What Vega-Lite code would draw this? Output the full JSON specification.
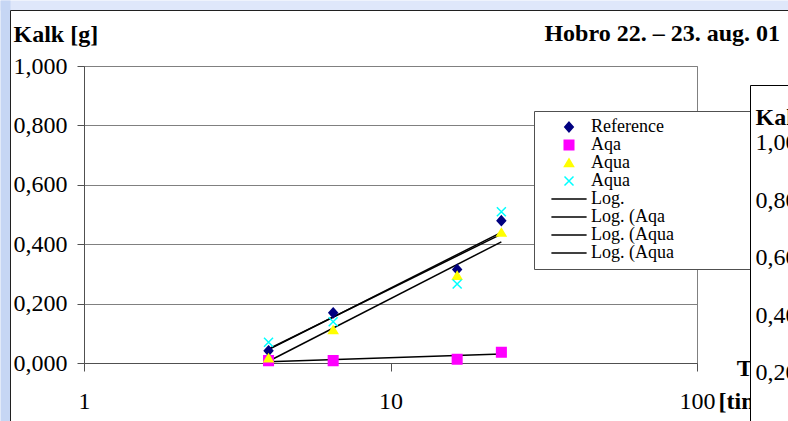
{
  "$schema": "https://vega.github.io/schema/vega-lite/v6.json",
  "width": 613,
  "height": 297,
  "autosize": {"type": "none"},
  "padding": {"left": 84, "top": 66, "right": 91, "bottom": 58},
  "background": "white",
  "title": {
    "text": "Hobro 22. – 23. aug. 01",
    "anchor": "end",
    "frame": "group",
    "dx": 83,
    "dy": 17,
    "offset": -43,
    "baseline": "alphabetic",
    "font": "Liberation Serif",
    "fontSize": 24,
    "fontWeight": "bold",
    "color": "black"
  },
  "datasets": {
    "points": [
      {"t": 4, "kalk": 0.041, "series": "Reference"},
      {"t": 6.5, "kalk": 0.169, "series": "Reference"},
      {"t": 16.5, "kalk": 0.315, "series": "Reference"},
      {"t": 23, "kalk": 0.479, "series": "Reference"},
      {"t": 4, "kalk": 0.008, "series": "Aqa"},
      {"t": 6.5, "kalk": 0.008, "series": "Aqa"},
      {"t": 16.5, "kalk": 0.013, "series": "Aqa"},
      {"t": 23, "kalk": 0.036, "series": "Aqa"},
      {"t": 4, "kalk": 0.016, "series": "Aqua"},
      {"t": 6.5, "kalk": 0.111, "series": "Aqua"},
      {"t": 16.5, "kalk": 0.294, "series": "Aqua"},
      {"t": 23, "kalk": 0.439, "series": "Aqua"},
      {"t": 4, "kalk": 0.07, "series": "Aqua2"},
      {"t": 6.5, "kalk": 0.139, "series": "Aqua2"},
      {"t": 16.5, "kalk": 0.266, "series": "Aqua2"},
      {"t": 23, "kalk": 0.509, "series": "Aqua2"}
    ],
    "trends": [
      {"t": 4, "kalk": 0.045, "trend": "Log."},
      {"t": 23, "kalk": 0.44, "trend": "Log."},
      {"t": 4, "kalk": 0.004, "trend": "Log. (Aqa"},
      {"t": 23, "kalk": 0.03, "trend": "Log. (Aqa"},
      {"t": 4, "kalk": 0.006, "trend": "Log. (Aqua"},
      {"t": 23, "kalk": 0.408, "trend": "Log. (Aqua"},
      {"t": 4, "kalk": 0.047, "trend": "Log. (Aqua2"},
      {"t": 23, "kalk": 0.434, "trend": "Log. (Aqua2"}
    ],
    "empty": []
  },
  "layer": [
    {
      "encoding": {
        "x": {
          "field": "t",
          "type": "quantitative",
          "scale": {"type": "log", "domain": [1, 100], "nice": false},
          "axis": {
            "orient": "bottom",
            "values": [1, 10, 100],
            "format": "d",
            "labelFont": "Liberation Serif",
            "titleFont": "Liberation Serif",
            "labelFlush": false,
            "labelOverlap": false,
            "labelBaseline": "alphabetic",
            "labelPadding": 37,
            "tickSize": 8,
            "tickColor": "#505050",
            "domainColor": "#505050",
            "grid": false,
            "title": ["Tid", "[timer]"],
            "titleX": 670,
            "titleY": 12,
            "titleAlign": "center",
            "titleBaseline": "alphabetic",
            "titleFontWeight": "bold",
            "titleLineHeight": 33
          }
        },
        "y": {
          "field": "kalk",
          "type": "quantitative",
          "scale": {"domain": [0, 1], "nice": false, "zero": false},
          "axis": {
            "orient": "left",
            "values": [0, 0.2, 0.4, 0.6, 0.8, 1],
            "labelExpr": "replace(format(datum.value, '.3f'), '.', ',')",
            "labelFont": "Liberation Serif",
            "titleFont": "Liberation Serif",
            "labelFlush": false,
            "labelOverlap": false,
            "labelPadding": 10,
            "tickSize": 7,
            "tickColor": "#505050",
            "domainColor": "#505050",
            "grid": true,
            "gridColor": "#808080",
            "title": "Kalk [g]",
            "titleAngle": 0,
            "titleX": -71,
            "titleY": -25,
            "titleAlign": "left",
            "titleBaseline": "alphabetic",
            "titleFontWeight": "bold"
          }
        }
      },
      "layer": [
        {
          "data": {"name": "trends"},
          "mark": {"type": "line", "color": "black", "strokeWidth": 1.5},
          "encoding": {"detail": {"field": "trend", "type": "nominal"}}
        },
        {
          "data": {"name": "points"},
          "mark": {"type": "point", "size": 64, "strokeWidth": 1.5, "opacity": 1},
          "encoding": {
            "shape": {
              "field": "series",
              "type": "nominal",
              "scale": {
                "domain": ["Reference", "Aqa", "Aqua", "Aqua2", "Log.", "Log. (Aqa", "Log. (Aqua", "Log. (Aqua2"],
                "range": [
                  "M0,-1.19L1.06,0L0,1.19L-1.06,0Z",
                  "M-1.19,-1.19H1.19V1.19H-1.19Z",
                  "M0,-1.0L1.125,0.875H-1.125Z",
                  "M-1.125,-1.125L1.125,1.125M-1.125,1.125L1.125,-1.125",
                  "M-4.4,0H4.4",
                  "M-4.4,0H4.4",
                  "M-4.4,0H4.4",
                  "M-4.4,0H4.4"
                ]
              },
              "legend": {
                "orient": "none",
                "legendX": 450,
                "legendY": 45,
                "title": null,
                "padding": 7,
                "fillColor": "white",
                "strokeColor": "#505050",
                "symbolSize": 64,
                "symbolStrokeWidth": 1.5,
                "symbolOffset": 19,
                "labelOffset": 13,
                "rowPadding": 0,
                "labelFont": "Liberation Serif",
                "labelFontSize": 18,
                "labelColor": "black",
                "labelLimit": 300,
                "labelExpr": "replace(datum.label, '2', '') + '\u00a0\u00a0\u00a0\u00a0\u00a0\u00a0\u00a0\u00a0\u00a0\u00a0\u00a0\u00a0\u00a0\u00a0\u00a0\u00a0\u200b'"
              }
            },
            "fill": {
              "field": "series",
              "type": "nominal",
              "scale": {
                "domain": ["Reference", "Aqa", "Aqua", "Aqua2", "Log.", "Log. (Aqa", "Log. (Aqua", "Log. (Aqua2"],
                "range": ["#000080", "#ff00ff", "#ffff00", "#00ffff", "black", "black", "black", "black"]
              }
            },
            "stroke": {
              "field": "series",
              "type": "nominal",
              "scale": {
                "domain": ["Reference", "Aqa", "Aqua", "Aqua2", "Log.", "Log. (Aqa", "Log. (Aqua", "Log. (Aqua2"],
                "range": ["#000080", "#ff00ff", "#ffff00", "#00ffff", "black", "black", "black", "black"]
              }
            }
          }
        }
      ]
    },
    {
      "data": {"name": "empty"},
      "mark": {"type": "point"},
      "encoding": {
        "x": {
          "field": "x2",
          "type": "quantitative",
          "scale": {"domain": [0, 1], "range": [666, 720], "nice": false, "zero": false},
          "axis": {
            "orient": "top",
            "offset": -19,
            "domain": true,
            "domainColor": "black",
            "ticks": false,
            "labels": false,
            "grid": false,
            "title": null,
            "zindex": 3
          }
        },
        "y": {
          "field": "y2",
          "type": "quantitative",
          "scale": {"domain": [0.033, 1.2017], "range": [355, 19], "nice": false, "zero": false},
          "axis": {
            "orient": "right",
            "offset": 53,
            "values": [0.2, 0.4, 0.6, 0.8, 1],
            "labelExpr": "replace(format(datum.value, '.3f'), '.', ',')",
            "labelFont": "Liberation Serif",
            "titleFont": "Liberation Serif",
            "domain": true,
            "domainColor": "black",
            "ticks": false,
            "tickSize": 0,
            "labelAlign": "left",
            "labelBaseline": "middle",
            "labelPadding": 5,
            "labelFlush": false,
            "labelOverlap": false,
            "grid": false,
            "title": "Kalk [g]",
            "titleAngle": 0,
            "titleX": 5,
            "titleY": 58,
            "titleAlign": "left",
            "titleBaseline": "alphabetic",
            "titleFontWeight": "bold",
            "zindex": 3
          }
        }
      }
    },
    {
      "data": {"name": "empty"},
      "mark": {"type": "point"},
      "encoding": {
        "y": {
          "field": "y3",
          "type": "quantitative",
          "scale": {"domain": [0, 1], "range": [355, 19], "nice": false, "zero": false},
          "axis": {
            "orient": "right",
            "offset": 93,
            "domain": true,
            "domainColor": "white",
            "domainWidth": 80,
            "ticks": false,
            "labels": false,
            "grid": false,
            "title": null,
            "zindex": 2
          }
        }
      }
    },
    {
      "data": {"name": "empty"},
      "mark": {"type": "point"},
      "encoding": {
        "x": {
          "field": "x5",
          "type": "quantitative",
          "scale": {"domain": [0, 1], "range": [-84, 704], "nice": false, "zero": false},
          "axis": {
            "orient": "top",
            "offset": 61,
            "domain": true,
            "domainColor": "#dfe7fa",
            "domainWidth": 10,
            "ticks": false,
            "labels": false,
            "grid": false,
            "title": null
          }
        },
        "y": {
          "field": "y5",
          "type": "quantitative",
          "scale": {"domain": [0, 1], "range": [355, -66], "nice": false, "zero": false},
          "axis": {
            "orient": "left",
            "offset": 79,
            "domain": true,
            "domainColor": "#c6d6f4",
            "domainWidth": 10,
            "ticks": false,
            "labels": false,
            "grid": false,
            "title": null
          }
        }
      }
    },
    {
      "data": {"name": "empty"},
      "mark": {"type": "point"},
      "encoding": {
        "x": {
          "field": "x6",
          "type": "quantitative",
          "scale": {"domain": [0, 1], "range": [-74, 704], "nice": false, "zero": false},
          "axis": {
            "orient": "top",
            "offset": 56,
            "domain": true,
            "domainColor": "#202020",
            "domainWidth": 1,
            "ticks": false,
            "labels": false,
            "grid": false,
            "title": null,
            "zindex": 1
          }
        },
        "y": {
          "field": "y6",
          "type": "quantitative",
          "scale": {"domain": [0, 1], "range": [355, -56], "nice": false, "zero": false},
          "axis": {
            "orient": "left",
            "offset": 74,
            "domain": true,
            "domainColor": "#202020",
            "domainWidth": 1,
            "ticks": false,
            "labels": false,
            "grid": false,
            "title": null,
            "zindex": 1
          }
        }
      }
    }
  ],
  "resolve": {
    "scale": {"x": "independent", "y": "independent"},
    "axis": {"x": "independent", "y": "independent"}
  },
  "config": {
    "font": "Liberation Serif",
    "view": {"stroke": "#808080", "strokeWidth": 1},
    "axis": {
      "labelFont": "Liberation Serif",
      "titleFont": "Liberation Serif",
      "labelFontSize": 24,
      "titleFontSize": 24,
      "labelColor": "black",
      "titleColor": "black"
    }
  }
}
